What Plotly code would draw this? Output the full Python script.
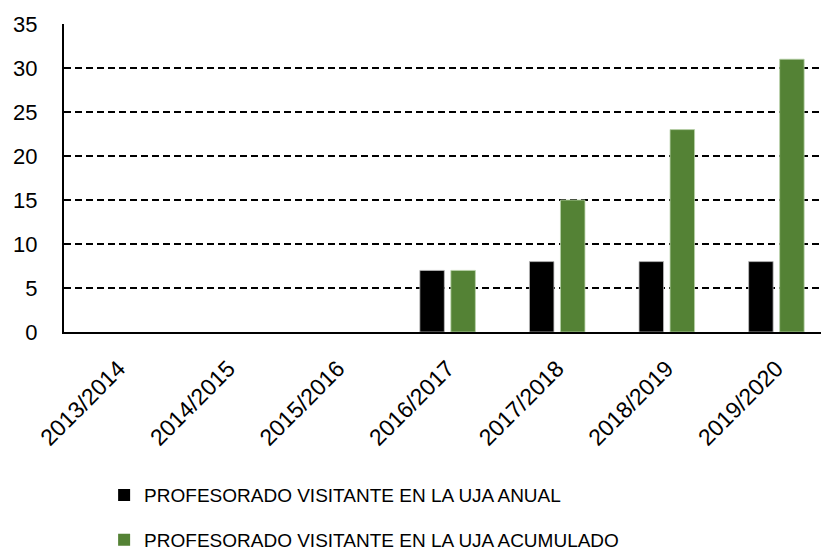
import plotly.graph_objects as go

# Academic years and visiting-faculty counts
cursos = ["2013/2014", "2014/2015", "2015/2016", "2016/2017",
          "2017/2018", "2018/2019", "2019/2020"]
anual = [0, 0, 0, 7, 8, 8, 8]
acumulado = [0, 0, 0, 7, 15, 23, 31]
y_ticks = [0, 5, 10, 15, 20, 25, 30, 35]

FONT = "Liberation Sans, Arial, sans-serif"


def edge_widths(values):
    # thin light outline on real bars only, so empty years leave no trace
    return [0.8 if v else 0 for v in values]


fig = go.Figure()
fig.add_trace(go.Bar(
    x=cursos, y=anual, name="PROFESORADO VISITANTE EN LA UJA ANUAL",
    marker=dict(color="#000000",
                line=dict(color="#bdbdbd", width=edge_widths(anual))),
    legendgroup="a",
))
fig.add_trace(go.Bar(
    x=cursos, y=acumulado, name="PROFESORADO VISITANTE EN LA UJA ACUMULADO",
    marker=dict(color="#548235",
                line=dict(color="#b9d2a9", width=edge_widths(acumulado))),
    legendgroup="b",
))

fig.update_layout(
    width=821, height=557,
    margin=dict(l=64, r=0, t=24, b=225, autoexpand=False),
    plot_bgcolor="white", paper_bgcolor="white",
    barmode="group", bargap=0.434, bargroupgap=0.21,
    font=dict(family=FONT, color="#000000", size=21),
    showlegend=True,
    legend=dict(
        orientation="v", x=0.053, xanchor="left", y=-0.468, yanchor="top",
        font=dict(family=FONT, size=19, color="#000000"),
        tracegroupgap=17, traceorder="grouped",
        bgcolor="rgba(0,0,0,0)",
    ),
)
fig.update_xaxes(
    type="category", range=[-0.5, 6.407],
    showline=True, linecolor="#000000", linewidth=2,
    showgrid=False, ticks="", tickangle=-45,
    ticklabelstandoff=12,
    tickfont=dict(family=FONT, size=23),
)
fig.update_yaxes(
    range=[0, 35], tickvals=y_ticks,
    showline=True, linecolor="#000000", linewidth=2,
    showgrid=True, gridcolor="#000000", gridwidth=2, griddash="7px,4px",
    zeroline=False, ticks="", ticklabelstandoff=20,
    tickfont=dict(family=FONT, size=22),
)

fig.write_html("out.html")
